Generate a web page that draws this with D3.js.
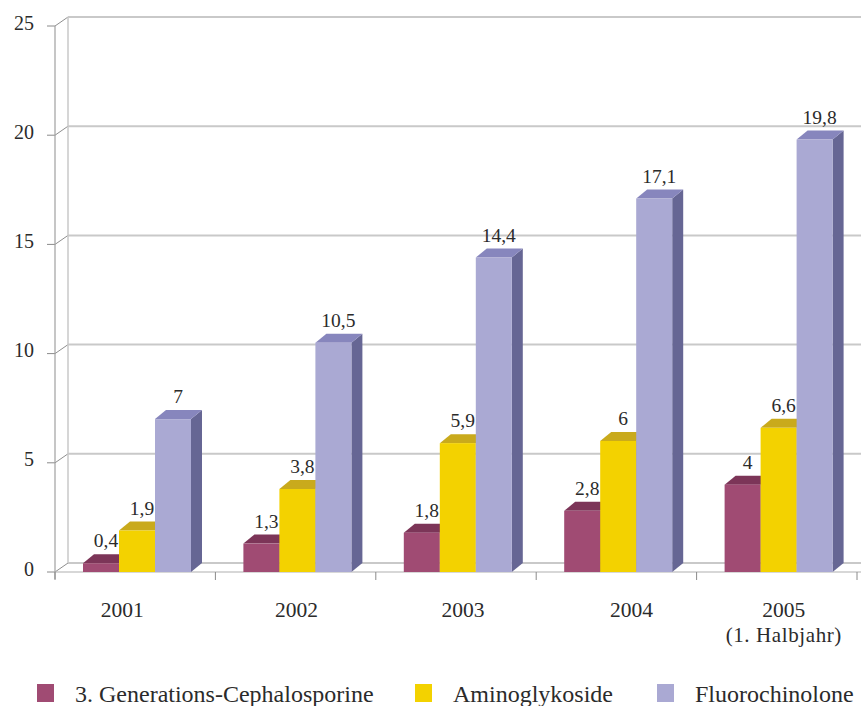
<!DOCTYPE html>
<html>
<head>
<meta charset="utf-8">
<script src="https://cdn.jsdelivr.net/npm/d3@7"></script>
<style>
  html, body { margin: 0; padding: 0; background: #fff; }
  svg { display: block; font-family: "Liberation Serif", "Times New Roman", serif; }
</style>
</head>
<body>
<svg id="chart" width="861" height="706"></svg>
<script>
// Data
const years = ["2001", "2002", "2003", "2004", "2005"];
const yearNotes = ["", "", "", "", "(1. Halbjahr)"];
const seriesNames = ["3. Generations-Cephalosporine", "Aminoglykoside", "Fluorochinolone"];
const cephalosporine = [0.4, 1.3, 1.8, 2.8, 4];
const aminoglykoside = [1.9, 3.8, 5.9, 6, 6.6];
const fluorochinolone = [7, 10.5, 14.4, 17.1, 19.8];
const yTicks = [0, 5, 10, 15, 20, 25];

const seriesValues = [cephalosporine, aminoglykoside, fluorochinolone];

// Styling
const faces = [
  { front: "#a04b73", top: "#7c3558", side: "#6e2f4e" },
  { front: "#f3d200", top: "#c9aa1c", side: "#a88c10" },
  { front: "#aaa9d3", top: "#8786bd", side: "#666694" }
];
const textColor = "#2b2b2b";
const gridColor = "#c9c9c9";

const svg = d3.select("#chart");

// Geometry of the 3D frame
const wallDX = 13, wallDY = -9;   // depth offset of the back wall
const barDX = 11, barDY = -9;     // depth offset of each bar
const plotLeft = 55, plotRight = 857;
const y = d3.scaleLinear().domain([0, 25]).range([572, 26]);
const x0 = d3.scaleBand().domain(years).range([plotLeft, plotRight]).padding(0);
const x1 = d3.scaleBand().domain(d3.range(seriesNames.length)).range([28, 136]).padding(0);

const fmt = v => String(v).replace(".", ",");

// Back wall gridlines with the slanted joins to the front axis
const grid = svg.append("g");
yTicks.forEach(t => {
  const yf = y(t), yb = y(t) + wallDY;
  grid.append("line")
    .attr("x1", plotLeft + wallDX).attr("x2", 861)
    .attr("y1", yb).attr("y2", yb)
    .attr("stroke", gridColor).attr("stroke-width", 2);
  grid.append("line")
    .attr("x1", plotLeft).attr("y1", yf)
    .attr("x2", plotLeft + wallDX).attr("y2", yb)
    .attr("stroke", "#8e8e8e").attr("stroke-width", 1);
  grid.append("line")
    .attr("x1", plotLeft - 8).attr("x2", plotLeft)
    .attr("y1", yf).attr("y2", yf)
    .attr("stroke", "#8a8a8a").attr("stroke-width", 1);
  grid.append("text")
    .attr("x", 34).attr("y", yf - 1)
    .attr("text-anchor", "end").attr("dominant-baseline", "middle")
    .attr("font-size", 20).attr("fill", textColor)
    .text(t);
});

// Back wall left edge
grid.append("line")
  .attr("x1", plotLeft + wallDX).attr("x2", plotLeft + wallDX)
  .attr("y1", y(25) + wallDY).attr("y2", y(0) + wallDY)
  .attr("stroke", gridColor).attr("stroke-width", 1.5);

// Front vertical axis
grid.append("line")
  .attr("x1", plotLeft).attr("x2", plotLeft)
  .attr("y1", y(25)).attr("y2", y(0) + 7)
  .attr("stroke", "#a0a0a0").attr("stroke-width", 1.2);

// Front floor edge and category ticks
grid.append("line")
  .attr("x1", plotLeft).attr("x2", 861)
  .attr("y1", y(0)).attr("y2", y(0))
  .attr("stroke", "#b0b0b0").attr("stroke-width", 1.2);
years.concat(["end"]).forEach((yr, i) => {
  const xt = plotLeft + i * x0.step();
  grid.append("line")
    .attr("x1", xt).attr("x2", xt)
    .attr("y1", y(0)).attr("y2", y(0) + 8)
    .attr("stroke", "#8a8a8a").attr("stroke-width", 1);
});

// Bars drawn as front, top and side faces
const bars = svg.append("g");
years.forEach((yr, i) => {
  seriesValues.forEach((vals, s) => {
    const v = vals[i];
    const bx = x0(yr) + x1(s);
    const bw = x1.bandwidth();
    const yt = y(v), yb = y(0);
    const g = bars.append("g");
    g.append("polygon")
      .attr("points", [[bx + bw, yb], [bx + bw + barDX, yb + barDY], [bx + bw + barDX, yt + barDY], [bx + bw, yt]].join(" "))
      .attr("fill", faces[s].side);
    g.append("polygon")
      .attr("points", [[bx, yt], [bx + barDX, yt + barDY], [bx + bw + barDX, yt + barDY], [bx + bw, yt]].join(" "))
      .attr("fill", faces[s].top);
    g.append("rect")
      .attr("x", bx).attr("y", yt)
      .attr("width", bw).attr("height", yb - yt)
      .attr("fill", faces[s].front);
  });
});

// Value labels
const labels = svg.append("g");
years.forEach((yr, i) => {
  seriesValues.forEach((vals, s) => {
    const v = vals[i];
    const bx = x0(yr) + x1(s);
    labels.append("text")
      .attr("x", bx + x1.bandwidth() / 2 + 5)
      .attr("y", y(v) + barDY - 7)
      .attr("text-anchor", "middle")
      .attr("font-size", 19.5).attr("fill", textColor)
      .text(fmt(v));
  });
});

// Category labels
const yearLabelShift = [-13, 1, 7, 15, 7];
years.forEach((yr, i) => {
  const cx = x0(yr) + x0.bandwidth() / 2 + yearLabelShift[i];
  labels.append("text")
    .attr("x", cx).attr("y", 617)
    .attr("text-anchor", "middle")
    .attr("font-size", 21.5).attr("fill", textColor)
    .text(yr);
  if (yearNotes[i]) {
    labels.append("text")
      .attr("x", cx).attr("y", 642)
      .attr("text-anchor", "middle")
      .attr("font-size", 21).attr("letter-spacing", 0.6).attr("fill", textColor)
      .text(yearNotes[i]);
  }
});

// Legend
const legendX = [37, 415, 657];
const legend = svg.append("g");
seriesNames.forEach((name, s) => {
  legend.append("rect")
    .attr("x", legendX[s]).attr("y", 684)
    .attr("width", 17).attr("height", 18)
    .attr("fill", faces[s].front);
  legend.append("text")
    .attr("x", legendX[s] + 38).attr("y", 702)
    .attr("font-size", 24).attr("fill", textColor)
    .text(name);
});
</script>
</body>
</html>
